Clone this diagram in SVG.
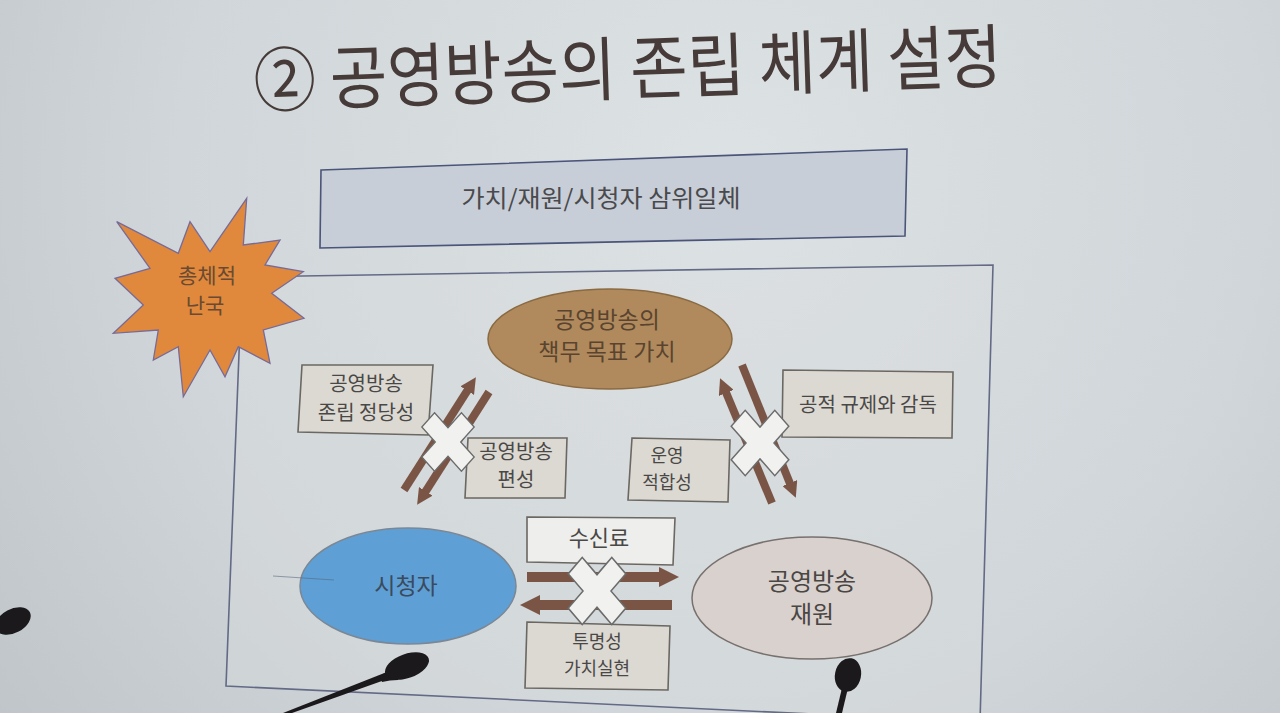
<svg xmlns="http://www.w3.org/2000/svg" xmlns:xlink="http://www.w3.org/1999/xlink" width="1280" height="713" viewBox="0 0 1280 713">
  <defs>
    <radialGradient id="bg" cx="720" cy="180" r="900" gradientUnits="userSpaceOnUse">
      <stop offset="0" stop-color="#dde2e4"/>
      <stop offset="0.6" stop-color="#d0d6d9"/>
      <stop offset="1" stop-color="#bfc5c8"/>
    </radialGradient>
    <marker id="head" viewBox="0 0 10 10" refX="2" refY="5" markerWidth="2" markerHeight="2" orient="auto" markerUnits="strokeWidth">
      <path d="M0,0 L10,5 L0,10 z" fill="#7a5545"/>
    </marker>
    <polygon id="xmark" transform="rotate(45)" points="9,-28 9,-9 28,-9 28,9 9,9 9,28 -9,28 -9,9 -28,9 -28,-9 -9,-9 -9,-28"/>
    <style>
      .t { font-family: "Noto Sans CJK KR", "Noto Sans", sans-serif; text-anchor: middle; }
      .box { fill: #dcd9d2; stroke: #6b6762; stroke-width: 1.6; }
      .bt { fill: #4a4846; font-size: 20px; }
      .arr { stroke: #7a5545; stroke-width: 8; fill: none; marker-end: url(#head); }
      .arrB { stroke: #7a5545; stroke-width: 10; fill: none; marker-end: url(#head); }
      .x { fill: #f1f1ef; stroke: #6b6b6b; stroke-width: 1.3; vector-effect: non-scaling-stroke; }
      .mic { fill: #1b191b; }
    </style>
  </defs>

  <rect width="1280" height="713" fill="url(#bg)"/>

  <g id="title">
    <text class="t" x="628" y="94" font-size="70" fill="#463b39" transform="rotate(-1.9 628 80) translate(628 0) scale(0.89 1) translate(-628 0)">② 공영방송의 존립 체계 설정</text>
  </g>

  <g id="frame">
    <polygon points="242,277 993,265 980,722 226,686" fill="#d9dddf" fill-opacity="0.35" stroke="#646a86" stroke-width="1.6"/>
  </g>

  <g id="top-box">
    <polygon points="321,170 907,149 905,236 320,248" fill="#c7ced8" stroke="#4b5479" stroke-width="1.6"/>
    <text class="t" x="601" y="207" font-size="24" fill="#4a4a4c" textLength="279" lengthAdjust="spacingAndGlyphs">가치/재원/시청자 삼위일체</text>
  </g>

  <g id="crisis">
    <polygon points="116.7,221.7 178.3,253.3 190,221.7 210,251.7 246.7,198.3 243.3,245 280,240 265,265 303.3,271.7 271.7,293.3 304,318.3 263.3,330 270,363.3 238.3,346.7 225,376.7 210,350 183.3,396.7 178.3,346.7 153.3,360 158.3,330 113.3,333.3 143.3,305 115,278.3 150,268.3" fill="#e0893c" stroke="#776a98" stroke-width="1.3"/>
    <text class="t" x="207" y="283" font-size="21" fill="#6a4a32">총체적</text>
    <text class="t" x="205" y="313" font-size="21" fill="#6a4a32">난국</text>
  </g>

  <g id="value">
    <ellipse cx="610" cy="339" rx="122" ry="50" fill="#b08a5c" stroke="#8a6a42" stroke-width="1.5"/>
    <text class="t" x="607" y="328" font-size="23" fill="#5a4430">공영방송의</text>
    <text class="t" x="607" y="360" font-size="23" fill="#5a4430">책무 목표 가치</text>
  </g>

  <g id="legitimacy">
    <polygon class="box" points="302,365 433,365 428,435 298,432"/>
    <text class="t bt" x="366" y="391">공영방송</text>
    <text class="t bt" x="366" y="420">존립 정당성</text>
  </g>

  <g id="programming">
    <polygon class="box" points="468,438 567,438 565,498 465,498"/>
    <text class="t bt" x="516" y="459" font-size="19">공영방송</text>
    <text class="t bt" x="516" y="487" font-size="19">편성</text>
  </g>

  <g id="operation">
    <polygon class="box" points="632,438 730,440 728,502 628,500"/>
    <text class="t" x="667" y="462" font-size="18" fill="#4a4846">운영</text>
    <text class="t" x="667" y="489" font-size="18" fill="#4a4846">적합성</text>
  </g>

  <g id="regulation">
    <polygon class="box" points="783,370 953,372 952,438 782,437"/>
    <text class="t bt" x="868" y="412">공적 규제와 감독</text>
  </g>

  <g id="viewers">
    <ellipse cx="408" cy="586" rx="108" ry="58" fill="#5ea0d6" stroke="#7b8794" stroke-width="1.5"/>
    <line x1="273" y1="576" x2="334" y2="580" stroke="#55657a" stroke-width="0.8" opacity="0.7"/>
    <text class="t" x="406" y="594" font-size="23" fill="#3b4a5c">시청자</text>
  </g>

  <g id="finance">
    <ellipse cx="812" cy="598" rx="120" ry="61" fill="#d9d1cd" stroke="#77706d" stroke-width="1.5"/>
    <text class="t" x="812" y="590" font-size="24" fill="#4a4644">공영방송</text>
    <text class="t" x="812" y="623" font-size="24" fill="#4a4644">재원</text>
  </g>

  <g id="fee">
    <polygon points="527,517 675,518 673,565 527,562" fill="#eeeeec" stroke="#6b6762" stroke-width="1.6"/>
    <text class="t" x="599" y="546" font-size="22" fill="#4a4846">수신료</text>
  </g>

  <g id="transparency">
    <polygon class="box" points="527,622 670,626 668,690 525,688"/>
    <text class="t" x="597" y="648" font-size="18" fill="#4a4846">투명성</text>
    <text class="t" x="597" y="675" font-size="18" fill="#4a4846">가치실현</text>
  </g>

  <g id="connectors">
    <line class="arr" x1="404" y1="490" x2="469" y2="388"/>
    <line class="arr" x1="489" y1="392" x2="424" y2="494"/>
    <line class="arr" x1="772" y1="503" x2="725" y2="390"/>
    <line class="arr" x1="742" y1="365" x2="791" y2="486"/>
    <line class="arrB" x1="527" y1="577" x2="663" y2="577"/>
    <line class="arrB" x1="672" y1="605" x2="536" y2="605"/>
    <use xlink:href="#xmark" class="x" transform="translate(448,442) scale(1,1.12)"/>
    <use xlink:href="#xmark" class="x" transform="translate(760,443) scale(1.1,1.25)"/>
    <use xlink:href="#xmark" class="x" transform="translate(597,591) scale(1.1,1.28)"/>
  </g>

  <g id="microphones">
    <ellipse class="mic" cx="13" cy="621" rx="19" ry="12" transform="rotate(-28 13 621)"/>
    <path d="M283,713 L392,670 L396,676 L292,713 z" class="mic"/>
    <path d="M380,676 Q392,668 400,670 L398,680 Q390,680 382,682 z" class="mic"/>
    <ellipse class="mic" cx="407" cy="666" rx="23" ry="12" transform="rotate(-20 407 666)"/>
    <ellipse class="mic" cx="848" cy="675" rx="13" ry="17" transform="rotate(12 848 675)"/>
    <path d="M842,688 L848,688 L842,713 L836,713 z" class="mic"/>
  </g>
</svg>
